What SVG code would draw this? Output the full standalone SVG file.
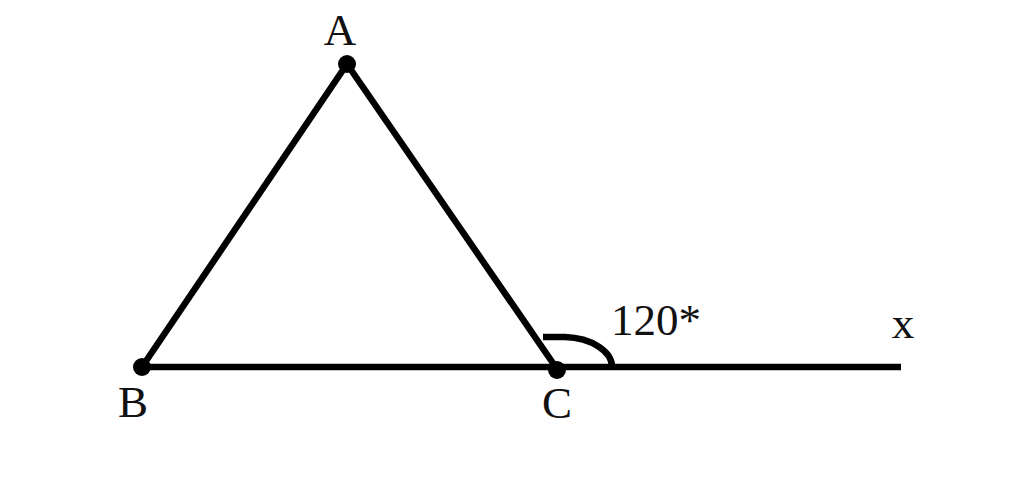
<svg xmlns="http://www.w3.org/2000/svg" width="1024" height="479" viewBox="0 0 1024 479">
<style>
.ln{stroke:#000;stroke-width:6.5;fill:none;stroke-linecap:butt;stroke-linejoin:round}
.lbl{font-family:"Liberation Serif","Times New Roman",serif;fill:#111;font-size:45px}
.dot{fill:#000}
</style>
<rect width="1024" height="479" fill="#fff"/>
<g id="connectors">
<line class="ln" x1="347" y1="64" x2="142" y2="367"/>
<line class="ln" x1="347" y1="64" x2="557" y2="369"/>
<line class="ln" x1="142" y1="367" x2="901" y2="367"/>
<path class="ln" d="M543 337 L565 337 A50 30 0 0 1 612 367"/>
</g>
<g id="A"><circle class="dot" cx="347" cy="64" r="9"/><text class="lbl" x="340" y="45" text-anchor="middle">A</text></g>
<g id="B"><circle class="dot" cx="142" cy="367" r="9"/><text class="lbl" x="133" y="417" text-anchor="middle">B</text></g>
<g id="C"><circle class="dot" cx="557" cy="370" r="9"/><text class="lbl" x="557" y="418" text-anchor="middle">C</text></g>
<g id="X"><text class="lbl" x="903" y="338" text-anchor="middle" font-size="52">x</text></g>
<g id="angle"><text class="lbl" x="611" y="335" font-size="46">120*</text></g>
</svg>
